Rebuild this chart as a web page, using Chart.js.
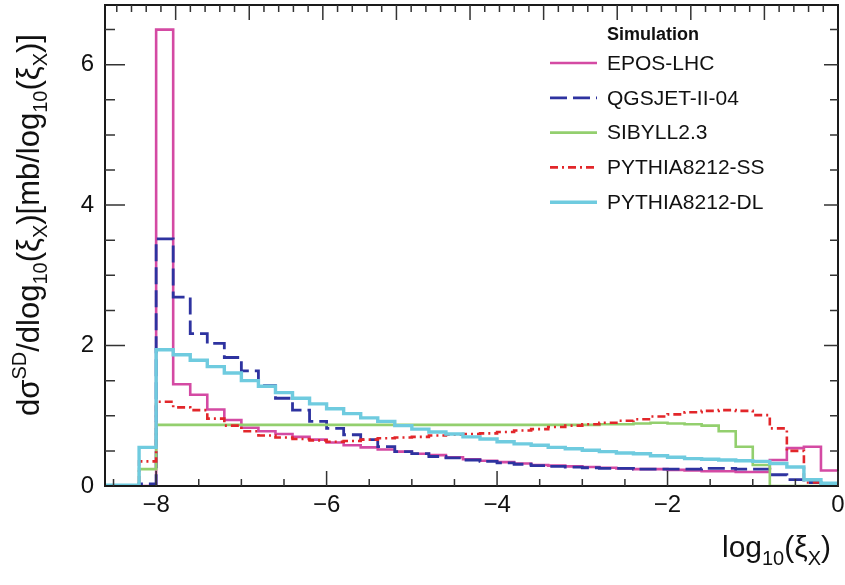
<!DOCTYPE html>
<html>
<head>
<meta charset="utf-8">
<script src="https://cdn.jsdelivr.net/npm/chart.js@4.4.0/dist/chart.umd.min.js"></script>
<style>
  html, body { margin: 0; padding: 0; background: #fff; }
  #wrap { width: 845px; height: 585px; }
</style>
</head>
<body>
<div id="wrap"><canvas id="xiChart" width="845" height="585"></canvas></div>
<script>
// histogram bins in log10(xi_X): width 0.2, from -8.6 up to 0
var binStart = -8.6;
var binWidth = 0.2;

// bin contents, dsigma/dlog10(xi) [mb], one value per bin (43 bins)
var eposLHC = [0, 0, 0, 6.50, 1.45, 1.30, 1.09, 0.94, 0.83, 0.78, 0.74, 0.70, 0.66, 0.62, 0.58,
  0.55, 0.52, 0.49, 0.46, 0.44, 0.41, 0.38, 0.36, 0.34, 0.32, 0.30, 0.29, 0.28, 0.27, 0.26,
  0.25, 0.24, 0.24, 0.23, 0.22, 0.21, 0.21, 0.20, 0.20, 0.37, 0.54, 0.56, 0.22];
var qgsjet = [0, 0, 0.03, 3.52, 2.69, 2.17, 2.03, 1.83, 1.64, 1.43, 1.25, 1.08, 0.92, 0.82, 0.73,
  0.66, 0.56, 0.49, 0.46, 0.42, 0.40, 0.37, 0.35, 0.33, 0.31, 0.29, 0.28, 0.27, 0.26, 0.25,
  0.25, 0.24, 0.24, 0.24, 0.24, 0.25, 0.25, 0.24, 0.24, 0.16, 0.09, 0.05, 0.02];
var sibyll = [0, 0, 0.24, 0.87, 0.87, 0.87, 0.87, 0.87, 0.87, 0.87, 0.87, 0.87, 0.87, 0.87, 0.87,
  0.87, 0.87, 0.87, 0.87, 0.87, 0.87, 0.87, 0.87, 0.87, 0.87, 0.87, 0.87, 0.87, 0.87, 0.88,
  0.88, 0.89, 0.90, 0.89, 0.88, 0.86, 0.78, 0.56, 0.30, 0, 0, 0, 0];
var pythiaSS = [0, 0, 0.35, 1.20, 1.12, 1.08, 0.96, 0.86, 0.78, 0.72, 0.69, 0.67, 0.65, 0.63, 0.64,
  0.66, 0.68, 0.69, 0.70, 0.72, 0.73, 0.74, 0.75, 0.77, 0.79, 0.81, 0.84, 0.86, 0.88, 0.90,
  0.93, 0.95, 0.99, 1.02, 1.05, 1.07, 1.08, 1.07, 1.01, 0.82, 0.50, 0.05, 0.02];
var pythiaDL = [0.01, 0.01, 0.55, 1.94, 1.87, 1.79, 1.70, 1.61, 1.50, 1.42, 1.33, 1.25, 1.17, 1.10, 1.03,
  0.97, 0.92, 0.86, 0.81, 0.77, 0.74, 0.70, 0.67, 0.63, 0.60, 0.58, 0.55, 0.53, 0.51, 0.49,
  0.47, 0.46, 0.43, 0.41, 0.39, 0.38, 0.37, 0.36, 0.35, 0.32, 0.27, 0.09, 0.04];

var seriesNames = ['EPOS-LHC', 'QGSJET-II-04', 'SIBYLL2.3', 'PYTHIA8212-SS', 'PYTHIA8212-DL'];
var xTickValues = [-8, -6, -4, -2, 0];
var yTickValues = [0, 2, 4, 6];

var FONT = '"Liberation Sans", Arial, Helvetica, sans-serif';

// one point per bin left edge, plus closing point at the right edge
function toSteps(vals) {
  var pts = [];
  for (var i = 0; i < vals.length; i++) {
    pts.push({x: +(binStart + i * binWidth).toFixed(2), y: vals[i]});
  }
  pts.push({x: +(binStart + vals.length * binWidth).toFixed(2), y: vals[vals.length - 1]});
  return pts;
}

function histo(label, vals, color, width, dash, order) {
  return {
    label: label,
    data: toSteps(vals),
    borderColor: color,
    borderWidth: width,
    borderDash: dash,
    stepped: true,
    pointRadius: 0,
    fill: false,
    order: order
  };
}

function minus(v) {
  return v < 0 ? '\u2212' + Math.abs(v) : '' + v;
}

// text with super/subscripts, drawn centered or right aligned at (x, y)
function drawRich(ctx, parts, x, y, size, align) {
  var small = Math.round(size * 0.66);
  var total = 0;
  parts.forEach(function(p) {
    ctx.font = (p.s ? small : size) + 'px ' + FONT;
    p.w = ctx.measureText(p.t).width;
    total += p.w;
  });
  var cx = align === 'right' ? x - total : x - total / 2;
  ctx.textAlign = 'left';
  ctx.textBaseline = 'alphabetic';
  parts.forEach(function(p) {
    ctx.font = (p.s ? small : size) + 'px ' + FONT;
    var dy = p.s === 'sup' ? -size * 0.42 : (p.s === 'sub' ? size * 0.26 : 0);
    ctx.fillText(p.t, cx, y + dy);
    cx += p.w;
  });
}

var rootFrame = {
  id: 'rootFrame',
  afterDatasetsDraw: function(chart) {
    var ctx = chart.ctx, a = chart.chartArea;
    var xs = chart.scales.x, ys = chart.scales.y;
    ctx.save();
    ctx.strokeStyle = '#1a1a1a';
    ctx.lineWidth = 2;
    ctx.strokeRect(a.left, a.top, a.right - a.left, a.bottom - a.top);

    ctx.lineWidth = 1.5;
    ctx.strokeStyle = '#333';
    ctx.beginPath();
    // bottom axis ticks
    for (var v = -8.5; v <= 0.001; v += 0.5) {
      var px = xs.getPixelForValue(v);
      var major = Math.abs(v % 2) < 0.001;
      ctx.moveTo(px, a.bottom);
      ctx.lineTo(px, a.bottom - (major ? 15 : 7));
    }
    // top axis ticks (mirror frame)
    var tMin = -9.96, tMax = 0;
    for (var t = -9.8; t < tMax - 0.01; t += 0.2) {
      var tp = a.left + (t - tMin) / (tMax - tMin) * (a.right - a.left);
      var tMajor = Math.abs(t - Math.round(t)) < 0.01;
      ctx.moveTo(tp, a.top);
      ctx.lineTo(tp, a.top + (tMajor ? 15 : 7));
    }
    // left and right axis ticks
    for (var w = 0.5; w < ys.max; w += 0.5) {
      var py = ys.getPixelForValue(w);
      var yMajor = Math.abs(w % 2) < 0.001;
      ctx.moveTo(a.left, py);
      ctx.lineTo(a.left + (yMajor ? 20 : 10), py);
      ctx.moveTo(a.right, py);
      ctx.lineTo(a.right - (yMajor ? 14 : 8), py);
    }
    ctx.stroke();
    ctx.restore();
  },
  afterDraw: function(chart) {
    var ctx = chart.ctx;
    ctx.save();
    ctx.fillStyle = '#111';

    // legend
    ctx.font = 'bold 18px ' + FONT;
    ctx.textAlign = 'left';
    ctx.textBaseline = 'middle';
    ctx.fillText('Simulation', 607, 35);
    chart.data.datasets.forEach(function(ds, i) {
      var y = 63 + i * 34.8;
      ctx.save();
      ctx.strokeStyle = ds.borderColor;
      ctx.lineWidth = ds.borderWidth;
      ctx.setLineDash(ds.borderDash || []);
      ctx.beginPath();
      ctx.moveTo(550, y);
      ctx.lineTo(597, y);
      ctx.stroke();
      ctx.restore();
      ctx.font = '21px ' + FONT;
      ctx.textBaseline = 'middle';
      ctx.fillText(ds.label, 607, y + 1);
    });

    // x title
    drawRich(ctx, [{t: 'log'}, {t: '10', s: 'sub'}, {t: '(\u03BE'}, {t: 'X', s: 'sub'}, {t: ')'}],
      831, 557, 30, 'right');

    // y title, rotated
    ctx.translate(39, 225);
    ctx.rotate(-Math.PI / 2);
    drawRich(ctx, [{t: 'd\u03C3'}, {t: 'SD', s: 'sup'}, {t: '/dlog'}, {t: '10', s: 'sub'},
      {t: '(\u03BE'}, {t: 'X', s: 'sub'}, {t: ')[mb/log'}, {t: '10', s: 'sub'},
      {t: '(\u03BE'}, {t: 'X', s: 'sub'}, {t: ')]'}], 0, 0, 31, 'center');
    ctx.restore();
  }
};

var datasets = [
  histo(seriesNames[0], eposLHC, '#d44aa3', 2.6, [], 5),
  histo(seriesNames[1], qgsjet, '#2e33a0', 2.8, [17, 6], 4),
  histo(seriesNames[2], sibyll, '#93cf6e', 2.6, [], 3),
  histo(seriesNames[3], pythiaSS, '#e2262a', 2.6, [8, 4, 2, 4], 2),
  histo(seriesNames[4], pythiaDL, '#6fcbdf', 3.4, [], 1)
];

var ctx = document.getElementById('xiChart').getContext('2d');
new Chart(ctx, {
  type: 'line',
  data: {datasets: datasets},
  options: {
    responsive: false,
    animation: false,
    devicePixelRatio: 1,
    layout: {padding: {top: 5, right: 7, left: 0, bottom: 0}},
    plugins: {legend: {display: false}, tooltip: {enabled: false}},
    scales: {
      x: {
        type: 'linear',
        min: binStart,
        max: 0,
        grid: {display: false, drawTicks: false},
        border: {display: false},
        afterBuildTicks: function(s) { s.ticks = xTickValues.map(function(v) { return {value: v}; }); },
        afterFit: function(s) { s.height = 99; s.paddingLeft = 0; s.paddingRight = 0; },
        ticks: {
          autoSkip: false, maxRotation: 0, padding: 5, color: '#111',
          font: {family: FONT, size: 24},
          callback: function(v) { return minus(v); }
        }
      },
      y: {
        type: 'linear',
        min: 0,
        max: 6.85,
        grid: {display: false, drawTicks: false},
        border: {display: false},
        afterBuildTicks: function(s) { s.ticks = yTickValues.map(function(v) { return {value: v}; }); },
        afterFit: function(s) { s.width = 105; s.paddingTop = 0; s.paddingBottom = 0; },
        ticks: {
          padding: 11, color: '#111',
          font: {family: FONT, size: 24},
          callback: function(v) { return minus(v); }
        }
      }
    }
  },
  plugins: [rootFrame]
});
</script>
</body>
</html>
